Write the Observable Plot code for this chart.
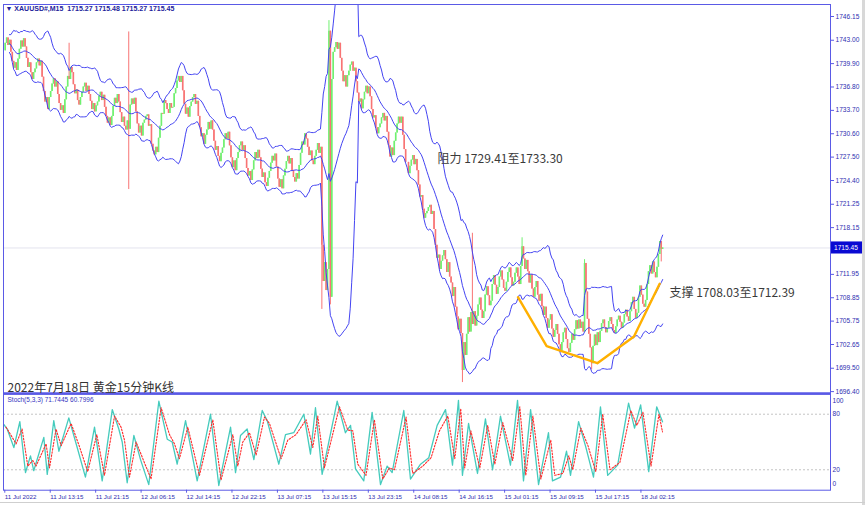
<!DOCTYPE html>
<html><head><meta charset="utf-8">
<script src="https://cdn.jsdelivr.net/npm/d3@7"></script>
<script src="https://cdn.jsdelivr.net/npm/@observablehq/plot@0.6"></script>
<style>
body{margin:0;background:#fff;}
#wrap{position:relative;width:865px;height:505px;overflow:hidden;background:#fff;}
#wrap svg{position:absolute;left:0;overflow:visible;}
#edgeR{position:absolute;left:862px;top:0;width:3px;height:505px;background:#d8d8d8;}
#edgeB{position:absolute;left:0;top:502px;width:865px;height:1px;background:#cfcfcf;}
</style></head>
<body><div id="wrap"><div id="edgeR"></div><div id="edgeB"></div></div>
<script>
// ---- data (15-minute XAUUSD closes) ----
const closes = [
1741.6,1742.6,1743.3,1742.3,1743.0,1741.4,1740.2,1739.3,1740.0,1739.0,
1740.5,1741.8,1742.9,1742.1,1743.2,1742.1,1740.6,1739.4,1740.0,1738.7,
1737.8,1738.7,1739.2,1740.0,1740.5,1739.6,1740.2,1738.1,1736.2,1734.8,
1735.4,1733.8,1735.4,1736.2,1737.2,1737.9,1736.8,1737.5,1735.8,1734.6,
1733.7,1734.3,1733.3,1735.1,1736.8,1738.2,1737.8,1739.4,1738.7,1737.1,
1735.9,1736.4,1735.0,1734.4,1735.4,1736.1,1736.8,1737.3,1736.2,1736.9,
1735.8,1734.9,1733.8,1734.6,1733.5,1734.3,1734.8,1735.6,1736.1,1735.0,
1735.7,1734.1,1732.9,1732.0,1732.7,1731.7,1732.9,1734.2,1735.3,1734.6,
1735.8,1734.8,1733.4,1732.1,1732.8,1731.6,1731.1,1732.3,1731.2,1734.4,
1735.2,1734.5,1735.3,1733.5,1731.9,1730.7,1731.6,1730.3,1732.0,1732.4,
1732.9,1733.1,1731.6,1731.8,1729.2,1728.3,1727.8,1728.8,1728.1,1730.0,
1731.6,1733.3,1733.2,1735.0,1734.6,1733.8,1733.3,1734.6,1734.0,1734.1,
1735.9,1736.6,1737.6,1738.2,1737.4,1738.2,1736.3,1734.5,1733.2,1734.0,
1732.8,1734.2,1734.8,1735.4,1735.8,1734.5,1734.9,1732.9,1731.4,1730.2,
1730.6,1729.2,1730.4,1731.1,1732.1,1731.2,1732.3,1731.1,1729.6,1728.4,
1728.9,1727.6,1726.9,1728.0,1728.7,1729.8,1730.6,1729.9,1730.8,1729.0,
1727.4,1726.1,1727.0,1725.7,1727.3,1728.1,1729.0,1729.5,1728.4,1729.0,
1727.3,1726.0,1725.0,1725.6,1724.4,1725.8,1727.0,1728.1,1727.3,1728.4,
1727.4,1725.9,1724.8,1725.4,1724.1,1723.6,1724.7,1725.6,1726.7,1727.6,
1727.0,1727.9,1726.2,1724.6,1723.5,1724.5,1723.3,1725.0,1725.9,1726.9,
1727.6,1726.6,1727.3,1725.7,1724.8,1724.2,1725.3,1724.6,1726.4,1728.0,
1729.5,1729.1,1730.6,1729.9,1728.8,1727.7,1728.3,1727.0,1726.5,1727.6,
1728.4,1729.3,1728.0,1728.8,1715.8,1711.0,1713.5,1709.8,1712.6,1744.2,
1708.9,1737.8,1741.4,1742.0,1742.7,1741.8,1742.6,1740.6,1738.9,1737.5,
1738.3,1736.8,1738.3,1738.9,1739.7,1740.1,1738.9,1739.3,1737.5,1736.0,
1734.8,1735.2,1733.9,1735.1,1736.1,1736.9,1735.9,1736.8,1735.5,1733.8,
1732.7,1733.0,1731.4,1730.6,1731.4,1731.9,1732.7,1733.3,1732.3,1732.9,
1730.8,1729.0,1727.5,1728.7,1727.7,1729.6,1730.7,1731.9,1732.8,1732.0,
1732.8,1730.4,1728.5,1726.8,1726.8,1725.3,1726.3,1727.1,1727.7,1726.5,
1727.2,1725.7,1723.8,1722.2,1722.4,1720.6,1719.4,1720.0,1720.3,1720.8,
1721.1,1719.9,1720.3,1717.9,1715.8,1714.1,1714.5,1712.6,1713.7,1714.4,
1715.1,1713.9,1712.2,1713.5,1711.6,1710.8,1709.0,1710.2,1707.6,1706.3,
1704.6,1706.0,1704.1,1699.2,1702.9,1701.2,1704.0,1706.2,1704.3,1706.9,
1705.3,1707.0,1705.1,1706.4,1707.9,1708.8,1707.2,1706.1,1707.0,1709.2,
1710.3,1709.1,1707.8,1708.4,1710.6,1711.8,1710.5,1709.3,1710.2,1711.6,
1712.4,1711.2,1710.1,1709.7,1710.9,1712.2,1712.8,1711.5,1710.4,1710.9,
1712.1,1712.8,1711.6,1710.6,1713.0,1715.6,1714.0,1712.6,1713.8,1712.3,
1710.8,1711.9,1710.0,1708.9,1710.2,1711.0,1709.2,1708.4,1709.3,1707.7,
1706.5,1707.6,1706.1,1704.8,1705.9,1706.6,1704.7,1703.6,1704.5,1705.3,
1704.0,1702.6,1701.8,1702.9,1704.2,1704.8,1703.3,1702.1,1701.6,1702.8,
1704.0,1703.2,1704.6,1705.8,1704.7,1705.9,1704.8,1705.6,1704.3,1713.4,
1709.6,1706.0,1704.0,1702.2,1700.1,1702.4,1703.9,1702.5,1704.2,1702.9,
1704.4,1705.4,1705.9,1704.9,1704.2,1704.8,1705.7,1706.2,1705.3,1704.5,
1704.1,1705.0,1705.9,1706.4,1705.6,1704.8,1705.5,1706.6,1707.2,1706.3,
1705.7,1707.0,1708.2,1708.9,1707.3,1706.1,1706.8,1708.9,1710.4,1709.2,
1708.0,1707.6,1708.5,1710.6,1712.3,1713.1,1712.0,1713.6,1712.2,1711.5,
1712.9,1714.6,1716.3,1715.27,1715.45
];
// long wicks visible in the picture
const spikeBars  = [46, 88, 224, 229, 230, 323, 330, 365, 409, 414, 463];
const spikeHighs = [1742.6, 1744.1, null, 1745.6, null, null, 1717.4, 1716.8, 1713.9, null, null];
const spikeLows  = [null, 1723.2, 1707.3, null, 1707.9, 1697.6, null, null, null, 1699.3, 1713.6];

// Stochastic main (%K) and signal (%D) lines, turning points (bar index, value)
const stochKBars = [0,2.4,7.1,11.3,15.3,18.8,21.1,28.2,30.6,35.2,38.8,45.8,51.7,57.5,63.9,69.3,76.4,81,83.4,86.9,91.6,96.3,102.1,109.2,115.1,118.6,122.1,128,136.2,145.6,151.4,159.7,163.2,166.7,171.4,176.1,182,185.5,193.7,198.4,204.2,211.3,216,219.5,224.2,234.8,240.6,244.2,247.7,253.5,259.4,265.3,270,273.5,281.7,286.4,293.5,299.3,305.2,311.1,316,320.2,323,327.3,333.6,339.2,344.2,349.8,356.8,361.8,366,371,376.6,383.6,386.4,392.1,396.3,399.1,404.8,409.8,415.3,420.2,425.3,432.3,440,444.2,448.5,454.2,459.8,463.9];
const stochKVals = [69,64,44,72,17,35,19,55,15,73,40,76,44,12,66,8,85,64,50,6,57,31,4,94,53,50,26,73,8,80,3,66,17,57,64,31,84,73,26,58,60,80,37,87,15,94,60,68,21,8,82,4,24,17,84,10,26,33,68,85,25,95,14,70,16,75,20,78,25,95,8,85,4,60,8,12,40,14,72,45,12,88,14,25,92,65,90,18,88,71.7445];
const stochDBars = [1.6,4,8.7,12.9,16.9,20.4,22.7,29.8,32.2,36.8,40.4,47.4,53.3,59.1,65.5,70.9,78,82.6,85,88.5,93.2,97.9,103.7,110.8,116.7,120.2,123.7,129.6,137.8,147.2,153,161.3,164.8,168.3,173,177.7,183.6,187.1,195.3,200,205.8,212.9,217.6,221.1,225.8,236.4,242.2,245.8,249.3,255.1,261,266.9,271.6,275.1,283.3,288,295.1,300.9,306.8,312.7,317.6,321.8,324.6,328.9,335.2,340.8,345.8,351.4,358.4,363.4,367.6,372.6,378.2,385.2,388,393.7,397.9,400.7,406.4,411.4,416.9,421.8,426.9,433.9,441.6,445.8,450.1,455.8,461.4,463.9];
const stochDVals = [66,60,48,64,24,30,24,48,22,64,46,70,45,18,58,14,78,66,52,12,50,32,10,87,58,48,32,66,14,74,9,58,24,50,60,36,77,70,32,52,58,74,44,78,22,88,63,62,26,14,74,10,22,20,77,16,24,33,62,78,32,86,22,62,22,68,26,71,30,88,14,78,10,52,14,16,35,20,65,46,18,80,20,28,84,68,82,24,80,60.7996];

const priceTicks = [1746.15,1743.00,1739.90,1736.80,1733.70,1730.60,1727.50,1724.40,1721.25,1718.15,1711.95,1708.85,1705.75,1702.65,1699.50,1696.40];
const lastPrice = 1715.45;
const timeLabels = ["11 Jul 2022","11 Jul 13:15","11 Jul 21:15","12 Jul 06:15","12 Jul 14:15","12 Jul 22:15","13 Jul 07:15","13 Jul 15:15","13 Jul 23:15","14 Jul 08:15","14 Jul 16:15","15 Jul 01:15","15 Jul 09:15","15 Jul 17:15","18 Jul 02:15"];
const barsPerLabel = 32;
const stochLevels = [20, 80];

// orange support curve (bar index, price)
const supportBars   = [362.1, 382.3, 418.0, 443.8, 461.9];
const supportPrices = [1708.92, 1702.42, 1700.17, 1703.71, 1710.70];

const headerText = "▼ XAUUSD#,M15  1715.27 1715.48 1715.27 1715.45";
const stochText = "Stoch(5,3,3) 71.7445 60.7996";
const resistText = "阻力 1729.41至1733.30";
const supportText = "支撑 1708.03至1712.39";
const titleText = "2022年7月18日 黄金15分钟K线";

// ---- derived series ----
const spikeMap = new Map(spikeBars.map((b, k) => [b, k]));
const bars = closes.map((c, i) => {
  const o = i ? closes[i - 1] : c;
  let h = Math.max(o, c), l = Math.min(o, c);
  if (spikeMap.has(i)) {
    const k = spikeMap.get(i);
    if (spikeHighs[k] != null) h = Math.max(h, spikeHighs[k]);
    if (spikeLows[k] != null) l = Math.min(l, spikeLows[k]);
  }
  return {i, o, c, h, l, col: c >= o ? "#70f070" : "#f87474"};
});

// Bollinger Bands (20, 2) from the closes
const bands = [];
for (let i = 4; i < closes.length; i++) {
  const w = closes.slice(Math.max(0, i - 19), i + 1);
  const m = d3.mean(w);
  const s = Math.sqrt(d3.mean(w, v => (v - m) ** 2));
  bands.push({i, mid: m, up: m + 2 * s, lo: m - 2 * s});
}
const stochK = stochKBars.map((b, k) => ({b, v: stochKVals[k]}));
const stochD = stochDBars.map((b, k) => ({b, v: stochDVals[k]}));

// ---- layout ----
const BLUE = "#5a5ae6", TXT = "#2e2eb0", BAND = "#4444f2";
const xDomain = [-0.2, 582.2];
const PL = 3, PR = 830;
const pxToBar = px => xDomain[0] + (px - PL) * (xDomain[1] - xDomain[0]) / (PR - PL);
const latin = "'Liberation Sans', Arial, sans-serif";
const cjk = "'Noto Sans CJK SC', 'Noto Sans', sans-serif";

const main = Plot.plot({
  width: 865, height: 395,
  marginLeft: PL, marginRight: 865 - PR, marginTop: 4, marginBottom: 2,
  style: {background: "transparent", fontFamily: latin, overflow: "visible"},
  x: {domain: xDomain, axis: null},
  y: {domain: [1696.15, 1747.74], axis: null},
  marks: [
    Plot.ruleY([lastPrice], {stroke: "#e3e3ee", strokeWidth: 1}),
    Plot.ruleX(bars, {x: "i", y1: "l", y2: "h", stroke: "col", strokeWidth: 1, clip: true}),
    Plot.ruleX(bars, {x: "i", y1: "o", y2: "c", stroke: "col", strokeWidth: 1.6, clip: true}),
    Plot.line(bands, {x: "i", y: "up", stroke: BAND, strokeWidth: 1, clip: true}),
    Plot.line(bands, {x: "i", y: "mid", stroke: BAND, strokeWidth: 1, clip: true}),
    Plot.line(bands, {x: "i", y: "lo", stroke: BAND, strokeWidth: 1, clip: true}),
    Plot.line(supportBars.map((b, k) => ({b, p: supportPrices[k]})), {x: "b", y: "p", stroke: "#ffb000", strokeWidth: 2.4, strokeLinejoin: "round"}),
    Plot.frame({stroke: BLUE, strokeWidth: 1}),
    Plot.ruleY([1696.15], {stroke: BLUE, strokeWidth: 2.5}),
    Plot.axisY(priceTicks, {anchor: "right", tickSize: 3, tickPadding: 2, tickFormat: d => d.toFixed(2), fontSize: 6.6, fill: TXT, stroke: BLUE, label: null}),
    Plot.rect([lastPrice], {x1: pxToBar(831), x2: pxToBar(862), y1: d => d - 0.8, y2: d => d + 0.8, fill: "#0a0ad2"}),
    Plot.text([lastPrice], {x: pxToBar(833.5), y: d => d, text: d => d.toFixed(2), fill: "white", fontSize: 6.6, textAnchor: "start"}),
    Plot.text([headerText], {frameAnchor: "top-left", dx: 2, dy: 2, text: d => d, fill: "#22229a", fontSize: 7, fontWeight: "bold", textAnchor: "start"}),
    Plot.text([resistText], {x: pxToBar(437), y: 1727.2, text: d => d, fill: "#3a3a3a", fontSize: 12, fontFamily: cjk, textAnchor: "start"}),
    Plot.text([supportText], {x: pxToBar(669), y: 1709.4, text: d => d, fill: "#3a3a3a", fontSize: 12, fontFamily: cjk, textAnchor: "start"}),
    Plot.text([titleText], {frameAnchor: "bottom-left", dx: 4, dy: -2, text: d => d, fill: "#333", fontSize: 12, fontFamily: cjk, textAnchor: "start", lineAnchor: "bottom"})
  ]
});
main.style.top = "0px";
document.getElementById("wrap").appendChild(main);

const tickBars = timeLabels.map((_, k) => k * barsPerLabel);
const sub = Plot.plot({
  width: 865, height: 115,
  marginLeft: PL, marginRight: 865 - PR, marginTop: 3.7, marginBottom: 15.3,
  style: {background: "transparent", fontFamily: latin, overflow: "visible"},
  x: {domain: xDomain, axis: null},
  y: {domain: [-2.05, 101.6], axis: null},
  marks: [
    Plot.ruleY(stochLevels, {stroke: "#c4c4c4", strokeDasharray: "2,2", strokeWidth: 1}),
    Plot.line(stochK, {x: "b", y: "v", stroke: "#45cbbd", strokeWidth: 1.3}),
    Plot.line(stochD, {x: "b", y: "v", stroke: "#ff2a2a", strokeWidth: 1.1, strokeDasharray: "1.6,1.6"}),
    Plot.frame({stroke: BLUE, strokeWidth: 1}),
    Plot.axisY(stochLevels, {anchor: "right", tickSize: 0, tickPadding: 2, fontSize: 6.6, fill: TXT, label: null}),
    Plot.axisY([100], {anchor: "right", tickSize: 0, tickPadding: 2, dy: 5, fontSize: 6.6, fill: TXT, label: null}),
    Plot.axisY([0], {anchor: "right", tickSize: 0, tickPadding: 2, dy: -4.5, fontSize: 6.6, fill: TXT, label: null}),
    Plot.axisX(tickBars, {anchor: "bottom", tickSize: 3, tickPadding: 1, tickFormat: d => timeLabels[d / barsPerLabel], textAnchor: "start", dx: 1, fontSize: 6.2, fill: TXT, stroke: BLUE, label: null}),
    Plot.text([stochText], {frameAnchor: "top-left", dx: 4, dy: 3, text: d => d, fill: "#3333c0", fontSize: 6.5, textAnchor: "start", lineAnchor: "top"})
  ]
});
sub.style.top = "390px";
document.getElementById("wrap").appendChild(sub);
</script>
</body></html>
